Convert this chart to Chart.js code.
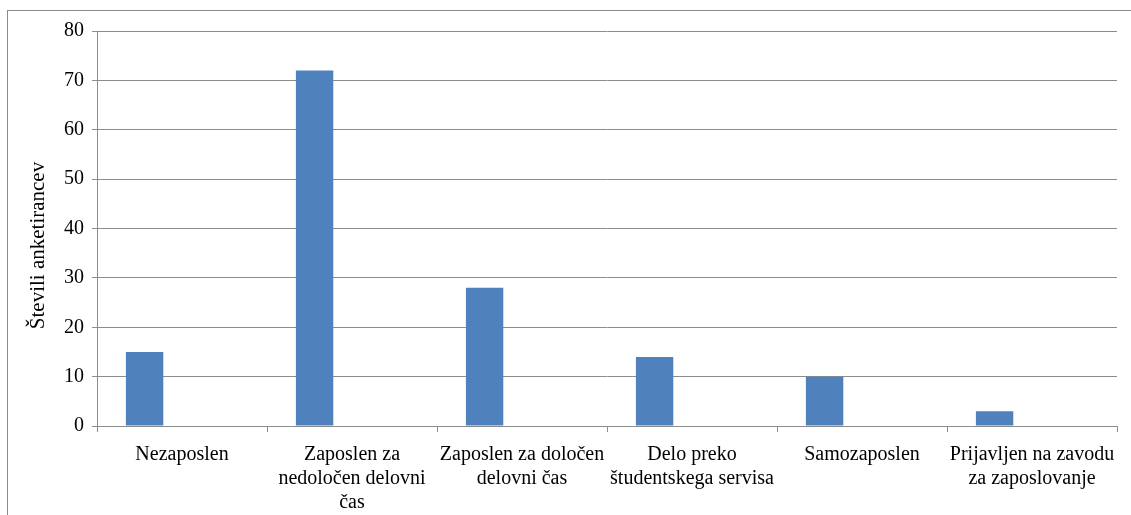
<!DOCTYPE html>
<html>
<head>
<meta charset="utf-8">
<script src="https://cdn.jsdelivr.net/npm/chart.js@4"></script>
<style>
    html, body { margin: 0; padding: 0; background: #fff; }
    #wrap { position: relative; width: 1131px; height: 515px; overflow: hidden; }
    #frame {
        position: absolute; left: 7px; top: 10px; width: 1200px; height: 600px;
        border-left: 1px solid #8a8a8a; border-top: 1px solid #8a8a8a;
    }
    canvas { position: absolute; left: 0; top: 0; }
</style>
</head>
<body>
<div id="wrap">
    <div id="frame"></div>
    <canvas id="chart" width="1131" height="515"></canvas>
</div>
<script>
const categories = [
    'Nezaposlen',
    ['Zaposlen za', 'nedoločen delovni', 'čas'],
    ['Zaposlen za določen', 'delovni čas'],
    ['Delo preko', 'študentskega servisa'],
    'Samozaposlen',
    ['Prijavljen na zavodu', 'za zaposlovanje']
];
const respondents = [15, 72, 28, 14, 10, 3];
const emptySeries = [null, null, null, null, null, null];
const yTicks = [0, 10, 20, 30, 40, 50, 60, 70, 80];
const yTitle = 'Števili anketirancev';

const gridColor = '#8c8c8c';
const fontFamily = '"Liberation Serif", "Times New Roman", serif';

// y title sits a bit below the middle of the plot, like in the original
const yTitlePlugin = {
    id: 'yTitle',
    afterDraw(chart) {
        const ctx = chart.ctx;
        const area = chart.chartArea;
        ctx.save();
        ctx.translate(38, (area.top + area.bottom) / 2 + 17);
        ctx.rotate(-Math.PI / 2);
        ctx.font = '21px ' + fontFamily;
        ctx.fillStyle = '#000';
        ctx.textAlign = 'center';
        ctx.textBaseline = 'middle';
        ctx.fillText(yTitle, 0, 0);
        ctx.restore();
    }
};

new Chart(document.getElementById('chart'), {
    type: 'bar',
    data: {
        labels: categories,
        datasets: [
            {label: 'Število', data: respondents, backgroundColor: '#4F81BD'},
            {label: 's2', data: emptySeries, backgroundColor: '#C0504D'},
            {label: 's3', data: emptySeries, backgroundColor: '#9BBB59'}
        ]
    },
    plugins: [yTitlePlugin],
    options: {
        responsive: false,
        animation: false,
        categoryPercentage: 0.66,
        barPercentage: 1,
        layout: {padding: {left: 8, top: 31, right: 14, bottom: 0}},
        plugins: {
            legend: {display: false},
            tooltip: {enabled: false}
        },
        scales: {
            x: {
                afterFit: scale => { scale.height = 89; },
                grid: {
                    offset: true,
                    drawOnChartArea: false,
                    drawTicks: true,
                    tickLength: 6,
                    color: gridColor
                },
                border: {color: gridColor, width: 1},
                ticks: {
                    color: '#000',
                    font: {family: fontFamily, size: 20},
                    padding: 11,
                    maxRotation: 0,
                    autoSkip: false
                }
            },
            y: {
                min: 0,
                max: 80,
                afterFit: scale => { scale.width = 89; },
                afterBuildTicks: scale => {
                    scale.ticks = yTicks.map(v => ({value: v}));
                },
                grid: {
                    color: gridColor,
                    tickLength: 5
                },
                border: {color: gridColor, width: 1},
                ticks: {
                    color: '#000',
                    font: {family: fontFamily, size: 20},
                    padding: 8
                }
            }
        }
    }
});
</script>
</body>
</html>
